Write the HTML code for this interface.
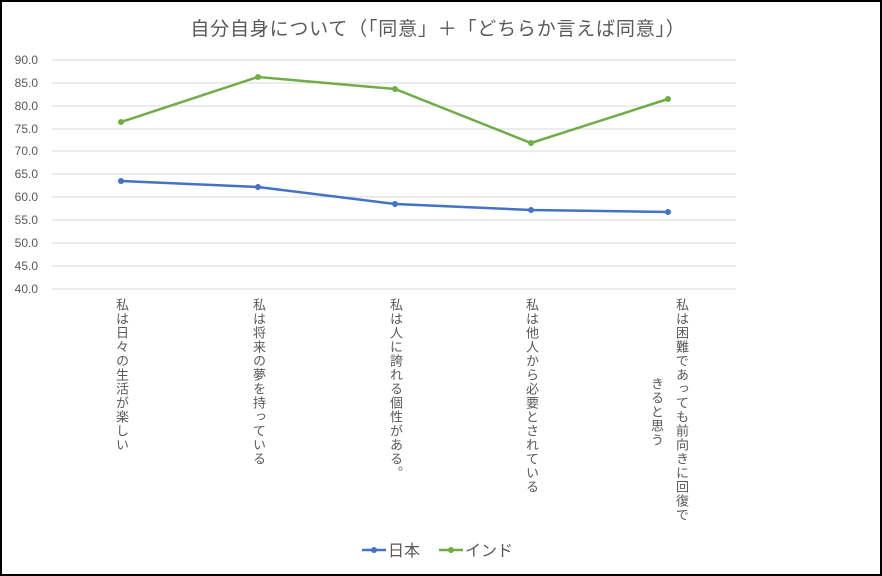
<!DOCTYPE html>
<html><head><meta charset="utf-8"><style>
html,body{margin:0;padding:0;background:#fff}
#c{position:relative;width:878px;height:572px;border:2px solid #000;overflow:hidden;font-family:"Liberation Sans","Noto Sans CJK JP",sans-serif;color:#595959}
.v{position:absolute;writing-mode:vertical-rl;font-size:13px;letter-spacing:1px;line-height:14px;white-space:nowrap}
</style></head><body><div id="c">
<svg width="878" height="572" style="position:absolute;left:0;top:0">
<text x="436" y="33" text-anchor="middle" font-size="19" letter-spacing="0.8" fill="#595959" font-family="Liberation Sans,Noto Sans CJK JP,sans-serif">自分自身について（「同意」＋「どちらか言えば同意」）</text>
<g stroke="#d9d9d9" stroke-width="1">
<line x1="50" x2="734" y1="58" y2="58"/><line x1="50" x2="734" y1="81" y2="81"/><line x1="50" x2="734" y1="104" y2="104"/><line x1="50" x2="734" y1="127" y2="127"/><line x1="50" x2="734" y1="149" y2="149"/><line x1="50" x2="734" y1="172" y2="172"/><line x1="50" x2="734" y1="195" y2="195"/><line x1="50" x2="734" y1="218" y2="218"/><line x1="50" x2="734" y1="241" y2="241"/><line x1="50" x2="734" y1="264" y2="264"/><line x1="50" x2="734" y1="287" y2="287"/>
</g>
<g font-size="12" fill="#595959" text-anchor="end" font-family="Liberation Sans,sans-serif">
<text x="36" y="62">90.0</text><text x="36" y="85">85.0</text><text x="36" y="108">80.0</text><text x="36" y="131">75.0</text><text x="36" y="153">70.0</text><text x="36" y="176">65.0</text><text x="36" y="199">60.0</text><text x="36" y="222">55.0</text><text x="36" y="245">50.0</text><text x="36" y="268">45.0</text><text x="36" y="291">40.0</text>
</g>
<polyline points="119,179 256,185 393,202 529,208 666,210" fill="none" stroke="#4472c4" stroke-width="2.5"/>
<polyline points="119,120 256,75 393,87 529,141 666,97" fill="none" stroke="#70ad47" stroke-width="2.5"/>
<g fill="#4472c4"><circle cx="119" cy="179" r="3"/><circle cx="256" cy="185" r="3"/><circle cx="393" cy="202" r="3"/><circle cx="529" cy="208" r="3"/><circle cx="666" cy="210" r="3"/></g>
<g fill="#70ad47"><circle cx="119" cy="120" r="3"/><circle cx="256" cy="75" r="3"/><circle cx="393" cy="87" r="3"/><circle cx="529" cy="141" r="3"/><circle cx="666" cy="97" r="3"/></g>
<line x1="360" x2="384" y1="548" y2="548" stroke="#4472c4" stroke-width="2.5"/><circle cx="372" cy="548" r="3" fill="#4472c4"/>
<line x1="437" x2="461" y1="548" y2="548" stroke="#70ad47" stroke-width="2.5"/><circle cx="449" cy="548" r="3" fill="#70ad47"/>
<text x="386" y="554" font-size="16" fill="#595959" font-family="Liberation Sans,Noto Sans CJK JP,sans-serif">日本</text>
<text x="463" y="554" font-size="16" fill="#595959" font-family="Liberation Sans,Noto Sans CJK JP,sans-serif">インド</text>
</svg>
<div class="v" style="left:112px;top:296px">私は日々の生活が楽しい</div>
<div class="v" style="left:249px;top:296px">私は将来の夢を持っている</div>
<div class="v" style="left:386px;top:296px">私は人に誇れる個性がある。</div>
<div class="v" style="left:522px;top:296px">私は他人から必要とされている</div>
<div class="v" style="left:672px;top:296px">私は困難であっても前向きに回復で</div>
<div class="v" style="left:647px;top:375px">きると思う</div>
</div></body></html>
